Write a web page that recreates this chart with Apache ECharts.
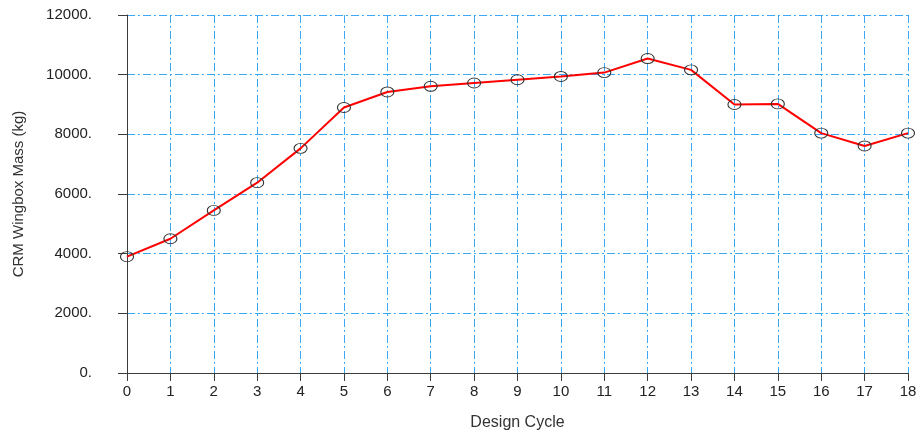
<!DOCTYPE html>
<html>
<head>
<meta charset="utf-8">
<script src="https://cdn.jsdelivr.net/npm/echarts@6/dist/echarts.min.js"></script>
<style>
  html, body { margin: 0; padding: 0; background: #ffffff; }
  #chart { width: 917px; height: 432px; }
</style>
</head>
<body>
<div id="chart"></div>
<script>
// Design cycles and the wingbox mass reached at each one (kg)
const designCycles = ['0','1','2','3','4','5','6','7','8','9','10','11','12','13','14','15','16','17','18'];
const wingboxMass = [3900, 4500, 5450, 6380, 7530, 8900, 9420, 9610, 9720, 9830, 9940, 10070, 10540, 10160, 9000, 9020, 8040, 7610, 8040];

const fontFamily = 'Liberation Sans, Arial, sans-serif';
const gridLine = { color: '#3aa8f5', width: 1, type: [8, 3, 2, 3] };
const axisDark = { color: '#3c3c3c', width: 1 };
const labelFont = { color: '#222', fontFamily: fontFamily, fontSize: 15 };

const chart = echarts.init(document.getElementById('chart'), null, { renderer: 'canvas' });
chart.setOption({
  backgroundColor: '#ffffff',
  animation: false,
  grid: { left: 127, right: 9, top: 15, bottom: 59, containLabel: false, outerBoundsMode: 'none' },
  xAxis: {
    type: 'category',
    data: designCycles,
    boundaryGap: false,
    name: 'Design Cycle',
    nameLocation: 'middle',
    nameGap: 42,
    nameTextStyle: { color: '#333', fontFamily: fontFamily, fontSize: 16 },
    axisLine: { lineStyle: axisDark },
    axisTick: { show: true, alignWithLabel: true, length: 8, lineStyle: axisDark },
    axisLabel: Object.assign({ margin: 11, interval: 0 }, labelFont),
    splitLine: { show: true, interval: 0, lineStyle: gridLine }
  },
  yAxis: {
    type: 'value',
    min: 0,
    max: 12000,
    interval: 2000,
    name: 'CRM Wingbox Mass (kg)',
    nameLocation: 'middle',
    nameRotate: 90,
    nameGap: 101,
    nameTextStyle: { color: '#333', fontFamily: fontFamily, fontSize: 15 },
    axisLine: { show: true, lineStyle: axisDark },
    axisTick: { show: true, length: 9, lineStyle: axisDark },
    axisLabel: Object.assign({ margin: 35, formatter: v => v + '.' }, labelFont),
    splitLine: { show: true, lineStyle: gridLine }
  },
  series: [{
    type: 'line',
    data: wingboxMass,
    lineStyle: { color: '#ff0000', width: 2 },
    symbol: 'circle',
    symbolSize: [13, 10],
    showAllSymbol: true,
    itemStyle: { color: 'rgba(0,0,0,0)', borderColor: '#333', borderWidth: 1 },
    z: 3
  }]
});
</script>
</body>
</html>
